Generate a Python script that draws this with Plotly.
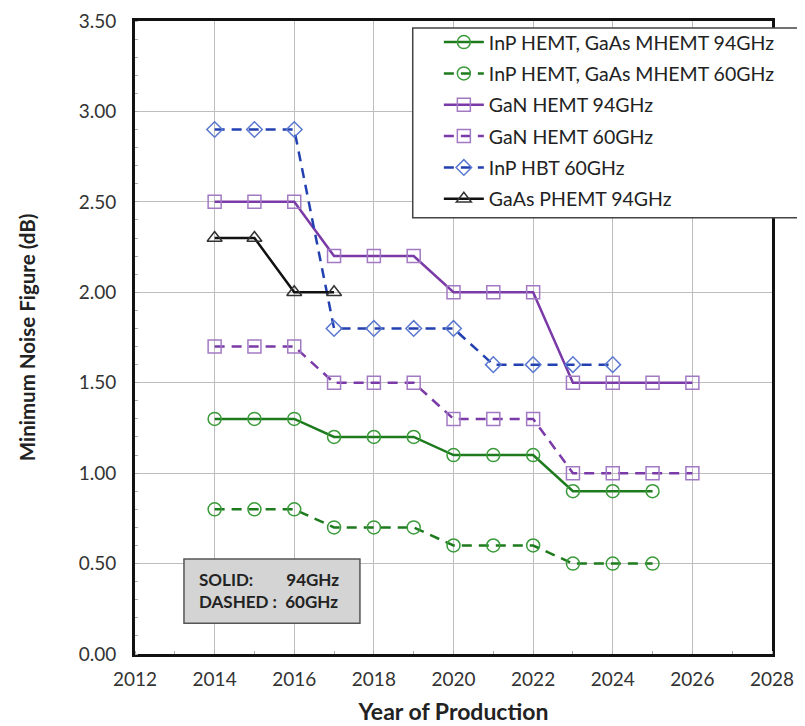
import plotly.graph_objects as go

years_a = [2014, 2015, 2016, 2017, 2018, 2019, 2020, 2021, 2022, 2023, 2024, 2025]
inp_hemt_94 = [1.3, 1.3, 1.3, 1.2, 1.2, 1.2, 1.1, 1.1, 1.1, 0.9, 0.9, 0.9]
inp_hemt_60 = [0.8, 0.8, 0.8, 0.7, 0.7, 0.7, 0.6, 0.6, 0.6, 0.5, 0.5, 0.5]
years_b = [2014, 2015, 2016, 2017, 2018, 2019, 2020, 2021, 2022, 2023, 2024, 2025, 2026]
gan_94 = [2.5, 2.5, 2.5, 2.2, 2.2, 2.2, 2.0, 2.0, 2.0, 1.5, 1.5, 1.5, 1.5]
gan_60 = [1.7, 1.7, 1.7, 1.5, 1.5, 1.5, 1.3, 1.3, 1.3, 1.0, 1.0, 1.0, 1.0]
years_c = [2014, 2015, 2016, 2017, 2018, 2019, 2020, 2021, 2022, 2023, 2024]
inp_hbt_60 = [2.9, 2.9, 2.9, 1.8, 1.8, 1.8, 1.8, 1.6, 1.6, 1.6, 1.6]
years_d = [2014, 2015, 2016, 2017]
gaas_phemt_94 = [2.3, 2.3, 2.0, 2.0]

x_ticks = [2012, 2014, 2016, 2018, 2020, 2022, 2024, 2026, 2028]
y_ticks = [0, 0.5, 1.0, 1.5, 2.0, 2.5, 3.0, 3.5]

FONT = "Lato, 'Open Sans', sans-serif"
GREEN = "#1d7a1d"
GREEN_M = "#3a9a3a"
PURPLE = "#7a3aa8"
PURPLE_M = "#a27ac4"
BLUE = "#2340b0"
BLUE_M = "#5a78d0"

fig = go.Figure()

def add(x, y, name, color, mcolor, symbol, dash, msize):
    fig.add_trace(go.Scatter(
        x=x, y=y, name=name, mode="lines+markers", legendgroup=name,
        line=dict(color=color, width=2.5, dash=dash),
        marker=dict(symbol=symbol, size=msize, color="rgba(255,255,255,0)",
                    line=dict(color=mcolor, width=1.5)),
    ))

add(years_a, inp_hemt_94, "InP HEMT, GaAs MHEMT 94GHz", GREEN, GREEN_M, "circle", "solid", 13)
add(years_a, inp_hemt_60, "InP HEMT, GaAs MHEMT 60GHz", GREEN, GREEN_M, "circle", "10px,7px", 13)
add(years_b, gan_94, "GaN HEMT 94GHz", PURPLE, PURPLE_M, "square", "solid", 13)
add(years_b, gan_60, "GaN HEMT 60GHz", PURPLE, PURPLE_M, "square", "10px,7px", 13)
add(years_c, inp_hbt_60, "InP HBT 60GHz", BLUE, BLUE_M, "diamond", "10px,7px", 12)
add(years_d, gaas_phemt_94, "GaAs PHEMT 94GHz", "#111111", "#333333", "triangle-up", "solid", 13)

# page body has an 8px default margin; figure is sized so the plot lands where the reference has it
fig.update_layout(
    width=797, height=718,
    margin=dict(l=127, r=33, t=13, b=72),
    paper_bgcolor="white", plot_bgcolor="white",
    font=dict(family=FONT, color="#333333"),
    showlegend=True,
    legend=dict(
        x=0.477, y=0.997, xanchor="left", yanchor="top",
        bgcolor="rgba(0,0,0,0)", borderwidth=0,
        font=dict(family=FONT, size=19.5, color="#222222"),
        itemwidth=40, tracegroupgap=3,
    ),
    xaxis=dict(
        range=[2012, 2028], tickmode="array", tickvals=x_ticks,
        ticktext=[str(v) for v in x_ticks],
        showgrid=True, gridcolor="#bdbdbd", gridwidth=1,
        showline=True, linecolor="#111111", linewidth=3, mirror=True,
        ticks="", tickfont=dict(size=19, color="#333333"), ticklabelstandoff=6,
        ticklabeloverflow="allow",
        minor=dict(dtick=1, ticks="inside", ticklen=3, tickcolor="#aaaaaa", showgrid=False),
        title=dict(text="<b>Year of Production</b>", font=dict(size=23, color="#222222"), standoff=16),
        zeroline=False, automargin=False,
    ),
    yaxis=dict(
        range=[0, 3.5], tickmode="array", tickvals=y_ticks,
        ticktext=["%.2f" % v for v in y_ticks],
        showgrid=True, gridcolor="#bdbdbd", gridwidth=1,
        showline=True, linecolor="#111111", linewidth=3, mirror=True,
        ticks="", tickfont=dict(size=19, color="#333333"), ticklabelstandoff=12,
        ticklabeloverflow="allow",
        minor=dict(dtick=0.1, ticks="inside", ticklen=3, tickcolor="#aaaaaa", showgrid=False),
        title=dict(text="<b>Minimum Noise Figure (dB)</b>", font=dict(size=20.5, color="#222222"), standoff=38),
        zeroline=False, automargin=False,
    ),
)

# legend frame
fig.add_shape(type="rect", xref="paper", yref="paper",
              x0=0.436, x1=1.06, y0=0.689, y1=0.989,
              fillcolor="white", line=dict(color="#444444", width=1.5), layer="above")

# SOLID / DASHED box
fig.add_shape(type="rect", xref="x", yref="y",
              x0=2013.23, x1=2017.65, y0=0.17, y1=0.525,
              fillcolor="#d4d4d4", line=dict(color="#555555", width=1.5), layer="above")
fig.add_annotation(x=2013.55, y=0.35, xref="x", yref="y", xanchor="left", yanchor="middle",
                   align="left", showarrow=False,
                   text="<b>SOLID:&nbsp;&nbsp;&nbsp;&nbsp;&nbsp;&nbsp;&nbsp;&nbsp;94GHz<br>DASHED :&nbsp;&nbsp;60GHz</b>",
                   font=dict(family=FONT, size=17, color="#222222"))

fig.write_html("out.html")
